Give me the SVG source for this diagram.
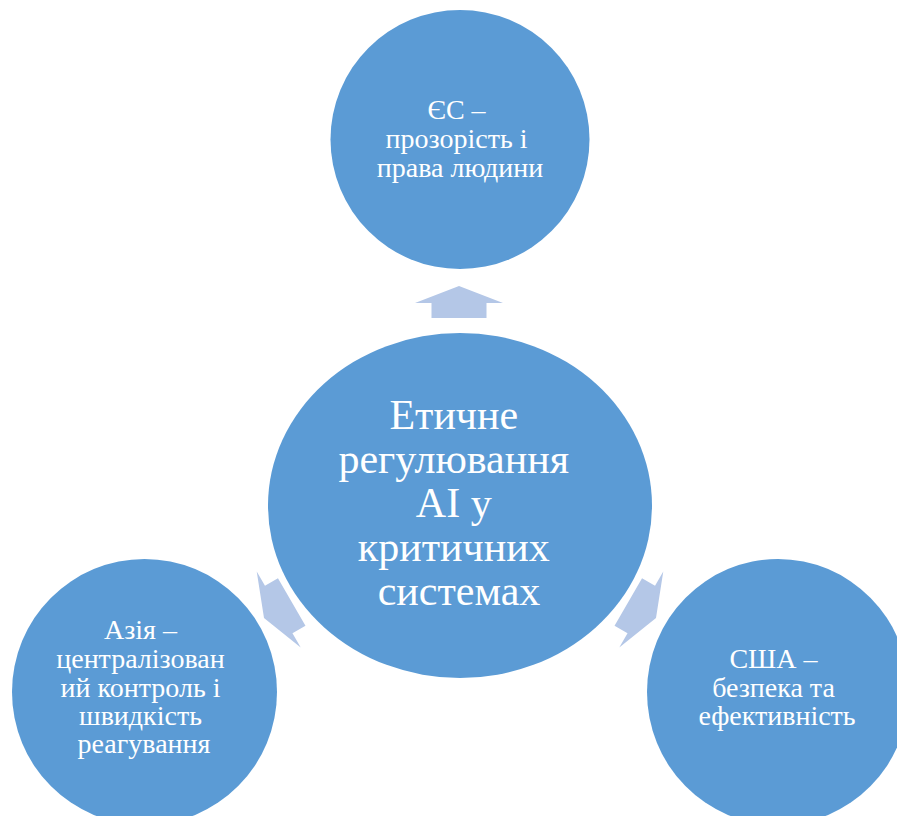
<svg xmlns="http://www.w3.org/2000/svg" width="897" height="816" viewBox="0 0 897 816">
  <style>
    .node { fill: #5B9BD5; }
    .arrow { fill: #B4C7E7; }
    .t { font-family: 'Liberation Serif', 'DejaVu Serif', serif; fill: #FFFFFF; text-anchor: middle; }
    .big { font-size: 42px; }
    .small { font-size: 28px; }
  </style>
  <defs>
    <polygon id="blockArrow" points="0,0 44,17 27.5,17 27.5,32 -27.5,32 -27.5,17 -44,17"/>
  </defs>
  <rect width="897" height="816" fill="#FFFFFF"/>
  <g id="connectors">
    <use href="#blockArrow" class="arrow" transform="translate(459,286)"/>
    <use href="#blockArrow" class="arrow" transform="translate(264,618) rotate(-120)"/>
    <use href="#blockArrow" class="arrow" transform="translate(656,618) rotate(120)"/>
  </g>
  <g id="node-center">
    <ellipse class="node" cx="460" cy="505.5" rx="192" ry="172.5"/>
    <text class="t big" font-family="Liberation Serif, serif">
      <tspan x="459" y="429">Етичне</tspan>
      <tspan x="459" y="473">регулювання</tspan>
      <tspan x="459" y="517">AI у</tspan>
      <tspan x="459" y="561">критичних</tspan>
      <tspan x="459" y="605">системах</tspan>
    </text>
  </g>
  <g id="node-eu">
    <circle class="node" cx="460" cy="139.5" r="129.5"/>
    <text class="t small" font-family="Liberation Serif, serif">
      <tspan x="460" y="119">ЄС –</tspan>
      <tspan x="460" y="148">прозорість і</tspan>
      <tspan x="460" y="177">права людини</tspan>
    </text>
  </g>
  <g id="node-asia">
    <ellipse class="node" cx="144.5" cy="692" rx="132.5" ry="133"/>
    <text class="t small" font-family="Liberation Serif, serif">
      <tspan x="144" y="639">Азія –</tspan>
      <tspan x="144" y="668">централізован</tspan>
      <tspan x="144" y="697">ий контроль і</tspan>
      <tspan x="144" y="725">швидкість</tspan>
      <tspan x="144" y="753">реагування</tspan>
    </text>
  </g>
  <g id="node-usa">
    <ellipse class="node" cx="778" cy="692" rx="131" ry="133"/>
    <text class="t small" font-family="Liberation Serif, serif">
      <tspan x="777" y="668">США –</tspan>
      <tspan x="777" y="697">безпека та</tspan>
      <tspan x="777" y="725">ефективність</tspan>
    </text>
  </g>
</svg>
